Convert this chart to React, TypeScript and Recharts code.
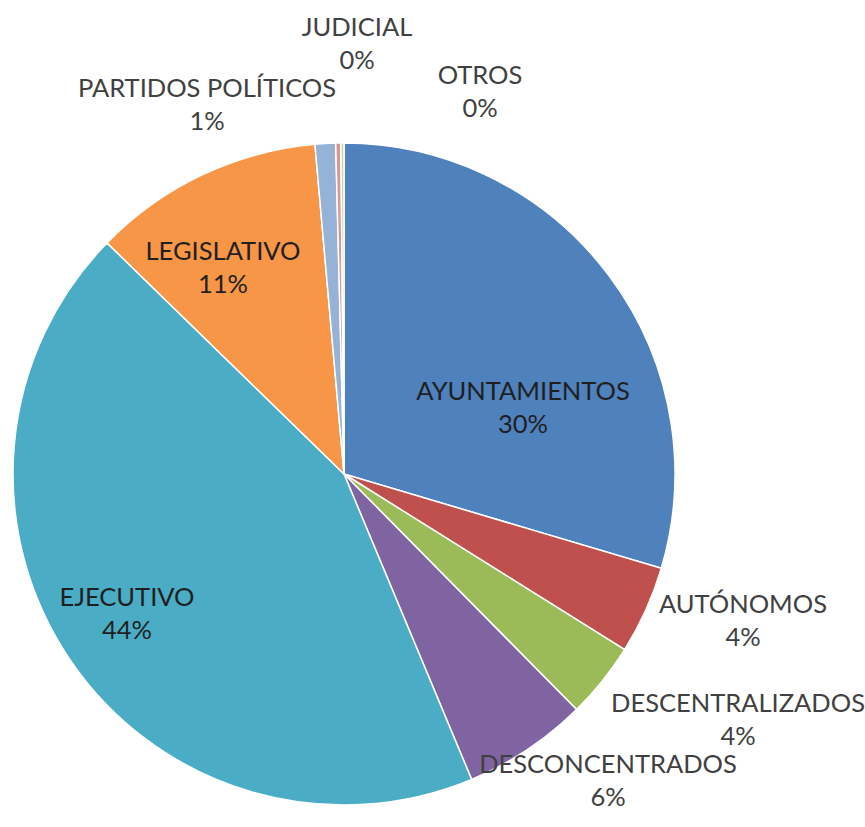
import { PieChart, Pie, Cell } from "recharts";

// sectores en orden horario desde las 12
const categories = [
  "AYUNTAMIENTOS",
  "AUTÓNOMOS",
  "DESCENTRALIZADOS",
  "DESCONCENTRADOS",
  "EJECUTIVO",
  "LEGISLATIVO",
  "PARTIDOS POLÍTICOS",
  "JUDICIAL",
  "OTROS",
];
const shares = [29.6, 4.3, 3.7, 6.1, 43.6, 11.3, 1.0, 0.25, 0.15];

const COLORS = ["#4F81BD", "#C0504D", "#9BBB59", "#8064A2", "#4BACC6", "#F79646", "#95B3D7", "#D99694", "#C3D69B"];

// label block centres, relative to the pie centre (Excel "best fit" placement)
const LABEL_OFFSETS: [number, number][] = [
  [179, -67],
  [399, 146],
  [394, 245],
  [264, 306],
  [-217, 139],
  [-121, -207],
  [-137, -370],
  [13, -431],
  [136, -383],
];
const INSIDE = [true, false, false, false, true, true, false, false, false];

const data = categories.map((name, i) => ({ name, value: shares[i] }));
const total = shares.reduce((a, b) => a + b, 0);

const FONT = 25.5;
const LINE = 33;

function renderLabel(props: any) {
  const { cx, cy, index, value, name } = props;
  const [dx, dy] = LABEL_OFFSETS[index];
  const x = cx + dx;
  const y = cy + dy;
  const pct = Math.round((value / total) * 100);
  const fill = INSIDE[index] ? "#1f1f1f" : "#404040";
  return (
    <text x={x} y={y} textAnchor="middle" fill={fill} fontFamily="Lato, 'Open Sans', sans-serif" fontSize={FONT}>
      <tspan x={x} y={y - LINE / 2 + FONT * 0.36}>{name}</tspan>
      <tspan x={x} y={y + LINE / 2 + FONT * 0.36}>{pct}%</tspan>
    </text>
  );
}

export default function App() {
  return (
    <div style={{ position: "absolute", left: 0, top: 0, width: 865, height: 827, background: "#fff" }}>
      <PieChart width={865} height={827} margin={{ top: 0, right: 0, bottom: 0, left: 0 }}>
        <Pie
          data={data}
          dataKey="value"
          nameKey="name"
          cx={344}
          cy={474}
          outerRadius={331}
          startAngle={90}
          endAngle={-270}
          stroke="#fff"
          strokeWidth={1.5}
          label={renderLabel}
          labelLine={false}
          isAnimationActive={false}
        >
          {data.map((d, i) => (
            <Cell key={d.name} fill={COLORS[i]} />
          ))}
        </Pie>
      </PieChart>
    </div>
  );
}
